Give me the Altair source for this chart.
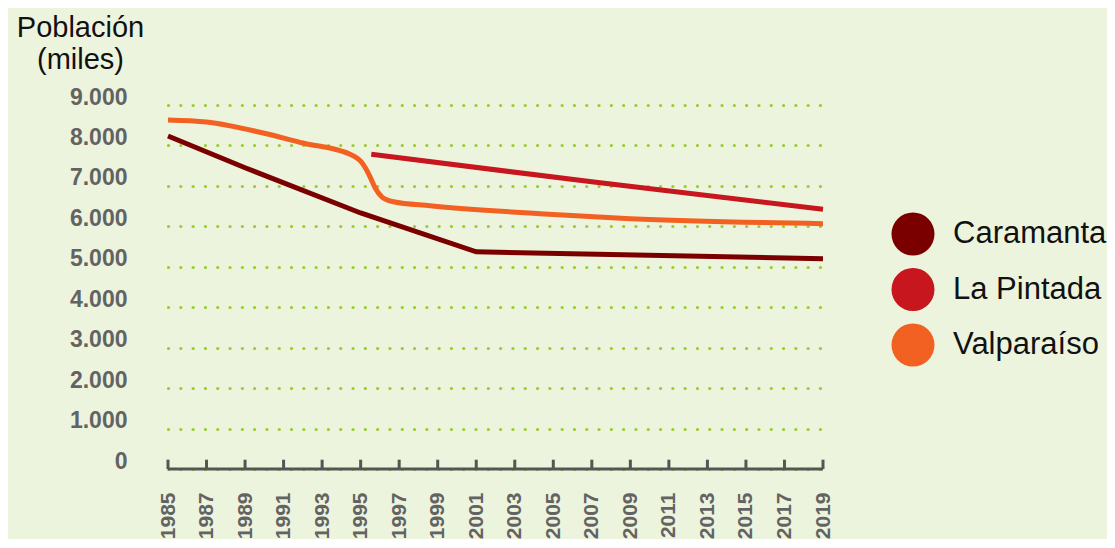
import altair as alt
import pandas as pd

# Data
car_years = [1985, 1989, 1995, 2001, 2019]
car_vals = [8235, 7450, 6330, 5370, 5200]

lap_years = [1995.55, 2007, 2019]
lap_vals = [7780, 7100, 6420]

val_years = [1985, 1987, 1990, 1992, 1994.45, 1995.07, 1995.49, 1995.75, 1996.1, 1996.7, 1998.6, 2004.3, 2009, 2019]
val_vals = [8630, 8580, 8300, 8060, 7780, 7570, 7224, 6953, 6731, 6607, 6509, 6312, 6190, 6065]

series = ["Caramanta", "La Pintada", "Valparaíso"]
colors = ["#7a0000", "#c8161e", "#f26122"]
tick_years = list(range(1985, 2020, 2))
y_ticks = [1000 * i for i in range(0, 10)]

rows = []
for name, ys, vs in [("Caramanta", car_years, car_vals),
                     ("La Pintada", lap_years, lap_vals),
                     ("Valparaíso", val_years, val_vals)]:
    for y, v in zip(ys, vs):
        rows.append({"serie": name, "anio": y, "pob": v})
df = pd.DataFrame(rows)
ticks_df = pd.DataFrame({"anio": tick_years, "y0": [0] * len(tick_years), "y1": [230] * len(tick_years)})
base_df = pd.DataFrame({"anio": [1985], "b": [2019], "y0": [0]})

W, H = 655, 364
xscale = alt.Scale(domain=[1985, 2019], nice=False, zero=False)
yscale = alt.Scale(domain=[0, 9000], nice=False)
cscale = alt.Scale(domain=series, range=colors)


def mkx(field):
    return alt.X(field, type="quantitative", scale=xscale,
                 axis=alt.Axis(values=tick_years, format="d", labelAngle=270, labelAlign="right",
                               labelBaseline="middle", labelPadding=23, labelFontSize=21,
                               labelFontWeight="bold", labelColor="#636363", labelFont="Liberation Sans",
                               domain=False, ticks=False, grid=False, title=None,
                               labelOverlap=False, labelFlush=False))


def mky(field):
    return alt.Y(field, type="quantitative", scale=yscale,
                 axis=alt.Axis(values=y_ticks,
                               labelExpr="replace(format(datum.value, ','), ',', '.')",
                               labelFontSize=23, labelFontWeight="bold", labelColor="#636363",
                               labelFont="Liberation Sans", labelPadding=41, labelOffset=-8,
                               labelOverlap=False,
                               ticks=False, domain=False,
                               grid=True, gridColor="#9acd32", gridWidth=3.2, gridDash=[0.1, 12.2],
                               gridCap="round",
                               title=["Población", "(miles)"], titleAngle=0, titleAlign="center",
                               titleBaseline="alphabetic", titleX=-88, titleY=-69,
                               titleFontSize=29, titleFontWeight="normal", titleColor="#111111",
                               titleFont="Liberation Sans", titleLineHeight=32))


legend = alt.Legend(title=None, orient="none", legendX=723, legendY=107,
                    symbolType="circle", symbolSize=1850, symbolStrokeWidth=0,
                    symbolOpacity=1, labelFontSize=31, labelFont="Liberation Sans",
                    labelColor="#111111", labelOffset=18, rowPadding=11.5,
                    padding=0, labelLimit=300)

# layer with no rows after the filter: it only supplies filled circles to the legend
legend_layer = alt.Chart(df).transform_filter(alt.datum.pob < 0).mark_circle(
    opacity=1, size=1850).encode(
    x=mkx("anio"), y=mky("pob"), color=alt.Color("serie:N", scale=cscale, legend=legend))

car_line = alt.Chart(df).transform_filter(alt.datum.serie == "Caramanta").mark_line(
    strokeWidth=5, interpolate="linear").encode(
    x=mkx("anio"), y=mky("pob"), color=alt.Color("serie:N", scale=cscale))

other_lines = alt.Chart(df).transform_filter(alt.datum.serie != "Caramanta").mark_line(
    strokeWidth=5, interpolate="monotone").encode(
    x=mkx("anio"), y=mky("pob"), color=alt.Color("serie:N", scale=cscale))

base_rule = alt.Chart(base_df).mark_rule(color="#555555", strokeWidth=3).encode(
    x=mkx("anio"), x2="b:Q", y=mky("y0"))

tick_rules = alt.Chart(ticks_df).mark_rule(color="#555555", strokeWidth=3).encode(
    x=mkx("anio"), y=mky("y0"), y2="y1:Q")

chart = alt.layer(legend_layer, car_line, other_lines, base_rule, tick_rules).properties(
    width=W, height=H, background="#edf4dd",
    padding={"left": 8, "top": 5, "right": 0, "bottom": 0}
).configure_view(stroke=None).configure_axisX(labelOverlap=False)

chart.save("out.html", embed_options={"renderer": "svg", "actions": False})
